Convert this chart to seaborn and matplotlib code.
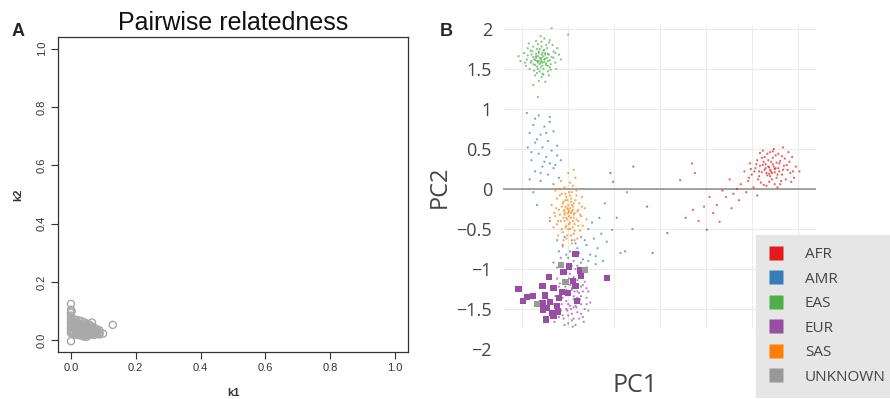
import pandas as pd
import seaborn as sns
import matplotlib.pyplot as plt
from matplotlib.lines import Line2D

# ---- panel A: pairwise relatedness (k1, k2) ----
k1 = [0.000, 0.000, 0.000, 0.000, 0.000, 0.000, 0.000, 0.000, 0.000, 0.000, 0.000,
      0.002, 0.002, 0.002, 0.002,
      0.008, 0.008, 0.008, 0.008, 0.008, 0.008,
      0.016, 0.016, 0.016, 0.016, 0.016, 0.016,
      0.024, 0.024, 0.024, 0.024, 0.024, 0.024,
      0.032, 0.032, 0.032, 0.032, 0.032, 0.032,
      0.040, 0.040, 0.040, 0.040, 0.040, 0.040,
      0.048, 0.048, 0.048, 0.048, 0.048, 0.048,
      0.056, 0.056, 0.056, 0.056, 0.056,
      0.065, 0.064, 0.064, 0.064, 0.064,
      0.072, 0.072, 0.072, 0.072,
      0.080, 0.080, 0.080,
      0.088, 0.088, 0.088,
      0.099, 0.129]
k2 = [0.125, 0.105, 0.095, 0.085, 0.075, 0.065, 0.055, 0.045, 0.035, 0.025, -0.003,
      0.100, 0.070, 0.050, 0.030,
      0.072, 0.062, 0.052, 0.042, 0.032, 0.024,
      0.070, 0.058, 0.047, 0.036, 0.026, 0.019,
      0.068, 0.057, 0.046, 0.035, 0.025, 0.018,
      0.066, 0.055, 0.044, 0.034, 0.024, 0.016,
      0.062, 0.053, 0.042, 0.031, 0.021, 0.013,
      0.058, 0.048, 0.038, 0.028, 0.019, 0.012,
      0.054, 0.044, 0.035, 0.026, 0.018,
      0.061, 0.048, 0.039, 0.030, 0.021,
      0.043, 0.034, 0.026, 0.019,
      0.038, 0.030, 0.022,
      0.034, 0.026, 0.020,
      0.023, 0.053]

# ---- panel B: PCA, small dots per population ----
afr_pc1 = [1.70, 1.66, 1.74, 1.62, 1.78, 1.68, 1.80, 1.58, 1.72, 1.84, 1.64, 1.76, 1.54, 1.88,
           1.60, 1.82, 1.70, 1.50, 1.92, 1.56, 1.86, 1.66, 1.78, 1.46, 1.96, 1.74, 1.62, 1.42,
           1.98, 1.52, 1.90, 1.38, 2.02, 1.68, 1.72, 1.64, 1.76, 1.70, 1.80, 1.58, 1.34, 1.30,
           1.44, 1.56, 1.26, 1.84, 1.94, 1.48, 1.36, 1.22, 1.18, 1.12, 1.04, 1.08, 0.98, 0.86,
           1.15, 1.01, 0.92, 0.72, 0.85, 0.88, 0.58, 0.42, 0.36, 0.21, -0.04, -0.01, 1.28, 0.78,
           1.71, 1.69, 1.75, 1.67, 1.73, 1.65, 1.79, 1.63, 1.77, 1.81, 1.61, 1.69, 1.83, 1.59,
           1.73, 1.67, 1.85, 1.57, 1.75, 1.89, 1.53, 1.79, 1.63, 1.87, 1.71, 1.65, 1.77, 1.69,
           1.75, 1.61, 1.81, 1.55, 1.91, 1.49, 1.95, 1.83, 1.59, 1.47, 1.73, 1.93]
afr_pc2 = [0.24, 0.20, 0.28, 0.30, 0.18, 0.36, 0.32, 0.16, 0.12, 0.24, 0.40, 0.42, 0.26, 0.30,
           0.08, 0.10, 0.46, 0.18, 0.20, 0.36, 0.38, 0.04, 0.02, 0.10, 0.14, 0.50, 0.48, 0.22,
           0.28, 0.02, 0.46, 0.06, 0.22, 0.28, 0.20, 0.24, 0.26, 0.16, 0.22, 0.22, 0.00, -0.06,
           -0.04, -0.08, 0.12, 0.52, 0.40, 0.32, -0.14, -0.10, -0.02, -0.20, -0.10, -0.30, -0.22, -0.26,
           -0.41, -0.51, -0.40, 0.11, 0.32, 0.20, -0.55, -0.80, -0.22, 0.28, 0.20, 0.09, -0.24, -0.36,
           0.22, 0.27, 0.21, 0.17, 0.31, 0.26, 0.26, 0.34, 0.14, 0.35, 0.21, 0.09, 0.18, 0.29,
           0.39, 0.44, 0.29, 0.12, 0.06, 0.24, 0.22, 0.44, 0.05, 0.12, 0.34, 0.31, 0.33, 0.19,
           0.25, 0.39, 0.06, 0.31, 0.34, 0.25, 0.22, 0.41, 0.45, 0.14, 0.47, 0.09]

amr_pc1 = [-0.95, -0.82, -0.70, -0.88, -0.76, -0.92, -0.80, -0.66, -0.72, -0.86, -0.94, -0.78,
           -0.68, -0.82, -0.62, -0.74, -0.90, -0.70, -0.78, -0.64, -0.58, -0.86, -0.72, -0.60,
           -0.80, -0.66, -0.88, -0.84, -0.70, -0.36, -0.30, -0.40, -0.56, -0.62, -0.48, -0.26,
           -0.34, -0.44, -0.58, -0.22, -0.18, -0.14, -0.28, -0.52, -0.40, -0.30, -0.12, -0.20,
           -0.66, -0.46, -0.24, -0.16, 0.07, -0.02, 0.03, 0.12, -0.08, 0.14, -0.10, 0.20,
           -0.60, -0.50, -0.38, -0.32, -0.42, -0.54, -0.28, -0.46, -0.20, -0.36,
           -0.84, -0.74, -0.90, -0.76, -0.66, -0.92, -0.70, -0.86, -0.62, -0.80]
amr_pc2 = [0.95, 0.92, 0.90, 0.80, 0.78, 0.70, 0.68, 0.72, 0.60, 0.58, 0.52, 0.52,
           0.48, 0.44, 0.42, 0.40, 0.36, 0.32, 0.28, 0.30, 0.36, 0.22, 0.18, 0.14,
           0.10, 0.06, -0.04, -0.20, -0.40, -0.60, -0.70, -0.74, -0.70, -0.64, -0.78, -0.82,
           -0.88, -0.90, -0.86, -0.62, -0.74, -0.56, -0.50, -0.82, -0.96, -0.98, -0.90, -0.94,
           -0.92, -0.64, -0.42, -0.36, -0.80, -0.51, -0.36, -0.78, -0.66, -0.04, -0.18, -0.50,
           -0.78, -0.86, -0.80, -0.64, -0.68, -0.60, -0.90, -0.96, -0.84, -0.92,
           0.62, 0.70, 0.46, 0.34, 0.26, 0.12, 0.84, 0.88, 0.54, 0.20]

eas_pc1 = [-0.80, -0.78, -0.83, -0.75, -0.86, -0.72, -0.90, -0.81, -0.77, -0.84, -0.70, -0.95,
           -0.88, -0.74, -0.68, -0.79, -0.92, -0.66, -0.98, -0.85, -0.76, -0.64, -0.82, -0.71,
           -1.02, -0.93, -0.62, -0.87, -0.79, -0.73, -0.81, -0.76, -0.84, -0.89, -0.69, -0.77,
           -0.83, -0.72, -0.96, -0.60, -0.86, -0.78, -0.91, -0.67, -0.80, -1.04, -0.58, -0.75,
           -0.88, -0.70, -0.82, -0.74, -0.79, -0.85, -0.68, -0.50, -0.83, -0.63, -0.94, -0.71,
           -0.79, -0.81, -0.77, -0.83, -0.75, -0.85, -0.78, -0.82, -0.74, -0.86, -0.80, -0.72,
           -0.88, -0.76, -0.84, -0.70, -0.90, -0.79, -0.81, -0.73, -0.87, -0.66, -0.94, -0.77,
           -0.83, -0.69, -0.91, -0.75, -0.85, -0.80, -0.78, -0.82, -0.72, -0.88, -0.76, -0.84,
           -0.64, -0.97, -0.79, -0.71]
eas_pc2 = [1.62, 1.58, 1.66, 1.70, 1.55, 1.60, 1.68, 1.75, 1.50, 1.45, 1.52, 1.62,
           1.78, 1.80, 1.65, 1.40, 1.50, 1.72, 1.70, 1.85, 1.88, 1.58, 1.35, 1.42,
           1.60, 1.82, 1.76, 1.62, 1.68, 1.64, 1.56, 1.62, 1.60, 1.72, 1.56, 1.73,
           1.50, 1.47, 1.54, 1.68, 1.42, 1.44, 1.58, 1.80, 1.91, 1.66, 1.62, 1.34,
           1.30, 1.86, 1.70, 1.55, 1.64, 1.66, 2.01, 1.93, 1.15, 1.50, 1.76, 1.68,
           1.60, 1.64, 1.66, 1.58, 1.63, 1.69, 1.54, 1.72, 1.57, 1.61, 1.52, 1.69,
           1.65, 1.74, 1.53, 1.61, 1.60, 1.78, 1.47, 1.76, 1.48, 1.64, 1.67, 1.43,
           1.81, 1.49, 1.73, 1.68, 1.64, 1.58, 1.70, 1.60, 1.54, 1.56, 1.59, 1.75,
           1.70, 1.58, 1.84, 1.83]

eur_pc1 = [-0.50, -0.46, -0.56, -0.42, -0.60, -0.48, -0.54, -0.38, -0.64, -0.44, -0.58, -0.50,
           -0.34, -0.40, -0.66, -0.52, -0.36, -0.62, -0.46, -0.30, -0.68, -0.54, -0.42, -0.70,
           -0.32, -0.48, -0.44, -0.56, -0.40, -0.52, -0.60, -0.38, -0.28, -0.26, -0.72, -0.62,
           -0.47, -0.53, -0.43, -0.57, -0.35, -0.49, -0.55, -0.45, -0.33, -0.65, -0.41, -0.59,
           -0.51, -0.37,
           -0.48, -0.52, -0.44, -0.46, -0.40, -0.36, -0.50, -0.42, -0.38, -0.34, -0.46, -0.30,
           -0.44, -0.36, -0.48, -0.40, -0.32, -0.52, -0.28, -0.42, -0.50, -0.38, -0.34, -0.56,
           -0.46, -0.40, -0.44, -0.36, -0.52, -0.30]
eur_pc2 = [-1.30, -1.24, -1.36, -1.40, -1.22, -1.46, -1.16, -1.30, -1.34, -1.10, -1.52, -1.58,
           -1.20, -1.54, -1.44, -1.04, -1.44, -1.12, -1.64, -1.36, -1.26, -1.70, -1.00, -1.56,
           -1.50, -1.20, -1.34, -1.28, -1.22, -1.40, -1.60, -1.62, -1.28, -1.42, -1.38, -0.98,
           -1.50, -1.22, -1.28, -1.44, -1.10, -1.12, -1.62, -1.72, -1.66, -1.66, -1.48, -1.18,
           -1.52, -1.38,
           -1.32, -1.26, -1.38, -1.18, -1.28, -1.34, -1.44, -1.46, -1.40, -1.28, -1.56, -1.44,
           -1.62, -1.56, -1.06, -1.14, -1.16, -1.50, -1.52, -1.70, -1.68, -1.08, -1.60, -1.58,
           -1.26, -1.36, -1.48, -1.22, -1.18, -1.24]

sas_pc1 = [-0.50, -0.46, -0.54, -0.44, -0.56, -0.48, -0.52, -0.40, -0.60, -0.42, -0.58, -0.50,
           -0.46, -0.36, -0.64, -0.54, -0.44, -0.56, -0.38, -0.62, -0.48, -0.34, -0.66, -0.52,
           -0.42, -0.58, -0.40, -0.68, -0.32, -0.47, -0.53, -0.49, -0.45, -0.51, -0.55, -0.43,
           -0.57, -0.47, -0.61, -0.37, -0.50, -0.44, -0.70, -0.30, -0.46, -0.56, -0.52, -0.48,
           -0.41, -0.59, -0.64, -0.39, -0.53, -0.45, -0.35, -0.62, -0.50, -0.48, -0.54, -0.44,
           -0.49, -0.51, -0.47, -0.53, -0.45, -0.55, -0.43, -0.57, -0.49, -0.51, -0.41, -0.59,
           -0.47, -0.53, -0.45, -0.55, -0.39, -0.61, -0.49, -0.43, -0.57, -0.51, -0.41, -0.63,
           -0.37, -0.47, -0.53, -0.45, -0.59, -0.39, -0.55, -0.43, -0.35, -0.65, -0.50, -0.48,
           -0.52, -0.46, -0.54, -0.44]
sas_pc2 = [-0.26, -0.20, -0.32, -0.36, -0.18, -0.42, -0.10, -0.28, -0.26, -0.14, -0.40, -0.50,
           -0.04, -0.34, -0.34, 0.02, -0.56, -0.54, -0.18, -0.12, 0.08, -0.46, -0.48, -0.62,
           0.14, 0.10, -0.62, -0.20, -0.24, -0.30, -0.22, -0.34, -0.26, -0.38, -0.28, -0.44,
           -0.06, -0.16, -0.58, -0.52, 0.20, 0.24, -0.36, -0.38, -0.68, -0.72, -0.46, -0.08,
           -0.02, 0.00, -0.02, -0.40, -0.14, -0.48, -0.10, -0.44, -0.30, -0.24, -0.40, -0.32,
           -0.28, -0.24, -0.36, -0.30, -0.22, -0.36, -0.30, -0.22, -0.44, -0.14, -0.38, -0.32,
           -0.12, -0.48, -0.40, -0.16, -0.26, -0.40, -0.04, -0.52, -0.50, -0.58, -0.08, -0.24,
           -0.32, -0.58, -0.06, 0.04, -0.08, -0.46, -0.64, -0.64, -0.22, -0.30, -0.20, -0.50,
           -0.36, -0.28, -0.26, -0.18]

# large squares (EUR samples and unknown samples)
eur_sq_pc1 = [-0.42, -0.49, -0.37, -0.55, -0.08, -0.36, -0.71, -0.53, -0.78, -0.42, -0.66, -1.04,
              -0.57, -0.50, -0.75, -0.88, -0.95, -0.99, -0.40, -0.70, -0.78, -0.62, -0.73, -0.61,
              -0.77, -0.67, -0.74, -0.66, -0.45, -0.60]
eur_sq_pc2 = [-0.81, -0.97, -1.02, -1.04, -1.11, -1.09, -1.10, -1.16, -1.21, -1.21, -1.24, -1.25,
              -1.29, -1.30, -1.33, -1.34, -1.35, -1.40, -1.40, -1.41, -1.43, -1.46, -1.49, -1.53,
              -1.51, -1.55, -1.63, -1.58, -1.15, -1.36]
unk_pc1 = [-0.58, -0.32, -0.53, -0.84]
unk_pc2 = [-0.95, -1.01, -1.16, -1.44]

populations = ["AFR", "AMR", "EAS", "EUR", "SAS", "UNKNOWN"]
pop_colors = ["#e41a1c", "#377eb8", "#4daf4a", "#984ea3", "#ff7f00", "#999999"]
y_ticks = [-2, -1.5, -1, -0.5, 0, 0.5, 1, 1.5, 2]
y_tick_labels = ["\u22122", "\u22121.5", "\u22121", "\u22120.5", "0", "0.5", "1", "1.5", "2"]
x_grid = [-1.0, -0.5, 0.0, 0.5, 1.0, 1.5, 2.0]

dots = pd.concat([
    pd.DataFrame({"PC1": afr_pc1, "PC2": afr_pc2, "pop": "AFR"}),
    pd.DataFrame({"PC1": amr_pc1, "PC2": amr_pc2, "pop": "AMR"}),
    pd.DataFrame({"PC1": eas_pc1, "PC2": eas_pc2, "pop": "EAS"}),
    pd.DataFrame({"PC1": eur_pc1, "PC2": eur_pc2, "pop": "EUR"}),
    pd.DataFrame({"PC1": sas_pc1, "PC2": sas_pc2, "pop": "SAS"}),
], ignore_index=True)
squares = pd.concat([
    pd.DataFrame({"PC1": eur_sq_pc1, "PC2": eur_sq_pc2, "pop": "EUR"}),
    pd.DataFrame({"PC1": unk_pc1, "PC2": unk_pc2, "pop": "UNKNOWN"}),
], ignore_index=True)
palette = dict(zip(populations, pop_colors))

sns.set_theme(style="white")
plt.rcParams["font.family"] = ["Liberation Sans", "DejaVu Sans"]

fig = plt.figure(figsize=(8.9, 3.99), dpi=100)

# Panel A
ax_a = fig.add_axes([58 / 890, 47 / 399, 350 / 890, 315 / 399])
ax_a.scatter(k1, k2, s=26, facecolors="none", edgecolors="#a8a8a8", linewidths=1.0)
ax_a.set_xlim(-0.04, 1.04)
ax_a.set_ylim(-0.04, 1.04)
ax_a.set_xticks([0, 0.2, 0.4, 0.6, 0.8, 1.0])
ax_a.set_yticks([0, 0.2, 0.4, 0.6, 0.8, 1.0])
ax_a.set_xticklabels(["0.0", "0.2", "0.4", "0.6", "0.8", "1.0"])
ax_a.set_yticklabels(["0.0", "0.2", "0.4", "0.6", "0.8", "1.0"], rotation=90, va="center")
ax_a.tick_params(direction="out", length=5, width=0.8, labelsize=8, colors="#333333", pad=3,
                 left=True, bottom=True)
for sp in ax_a.spines.values():
    sp.set_color("#333333")
    sp.set_linewidth(0.9)
fig.text(233 / 890, 1 - 23 / 399, "Pairwise relatedness", fontsize=18, ha="center", va="center", color="#111111")
fig.text(18 / 890, 1 - 32 / 399, "A", fontsize=13, fontweight="bold", ha="center", va="center")
fig.text(233 / 890, 1 - 393 / 399, "k1", fontsize=8, fontweight="bold", ha="center", va="center", color="#333333")
fig.text(18 / 890, 1 - 195 / 399, "k2", fontsize=8, fontweight="bold", ha="center", va="center",
         rotation=90, color="#333333")

# Panel B
ax_b = fig.add_axes([503 / 890, 46 / 399, 313 / 890, 328 / 399])
ax_b.hlines(y_ticks[1:], -1.21, 2.20, color="#ececec", lw=0.8, zorder=0)
ax_b.vlines(x_grid, -1.74, 2.05, color="#ececec", lw=0.8, zorder=0)
ax_b.axhline(0, color="#8a8a8a", lw=1.1, zorder=1)
sns.scatterplot(data=dots, x="PC1", y="PC2", hue="pop", palette=palette, s=2.5, linewidth=0,
                alpha=0.7, legend=False, ax=ax_b, zorder=2)
sns.scatterplot(data=squares, x="PC1", y="PC2", hue="pop", palette=palette, marker="s", s=20,
                linewidth=0, legend=False, ax=ax_b, zorder=3)
ax_b.set_xlim(-1.21, 2.20)
ax_b.set_ylim(-2.05, 2.05)
ax_b.set_xticks([])
ax_b.set_yticks(y_ticks)
ax_b.set_yticklabels(y_tick_labels, fontfamily=["Open Sans", "DejaVu Sans"])
ax_b.tick_params(axis="y", length=0, labelsize=13, colors="#444444", pad=8)
ax_b.set_xlabel("")
ax_b.set_ylabel("")
for sp in ax_b.spines.values():
    sp.set_visible(False)
fig.text(440 / 890, 1 - 187 / 399, "PC2", fontsize=17, rotation=90, ha="center", va="center",
         color="#444444", family=["Open Sans", "DejaVu Sans"])
fig.text(635 / 890, 1 - 385 / 399, "PC1", fontsize=18, ha="center", va="center",
         color="#444444", family=["Open Sans", "DejaVu Sans"])
fig.text(446 / 890, 1 - 32 / 399, "B", fontsize=13, fontweight="bold", ha="center", va="center")

handles = [Line2D([0], [0], marker="s", ls="", markersize=10, markerfacecolor=c,
                  markeredgecolor="none", label=p) for p, c in zip(populations, pop_colors)]
leg = fig.legend(handles=handles, loc="upper left", bbox_to_anchor=(756 / 890, 1 - 235 / 399),
                 frameon=True, fancybox=False, facecolor="#e6e6e6", edgecolor="#e6e6e6",
                 framealpha=1, prop={"family": ["Open Sans", "DejaVu Sans"], "size": 11},
                 labelspacing=0.62, handletextpad=1.4, handlelength=1.0, borderpad=0.8,
                 borderaxespad=0)
for t in leg.get_texts():
    t.set_color("#444444")

plt.savefig("out.png", dpi=100)
